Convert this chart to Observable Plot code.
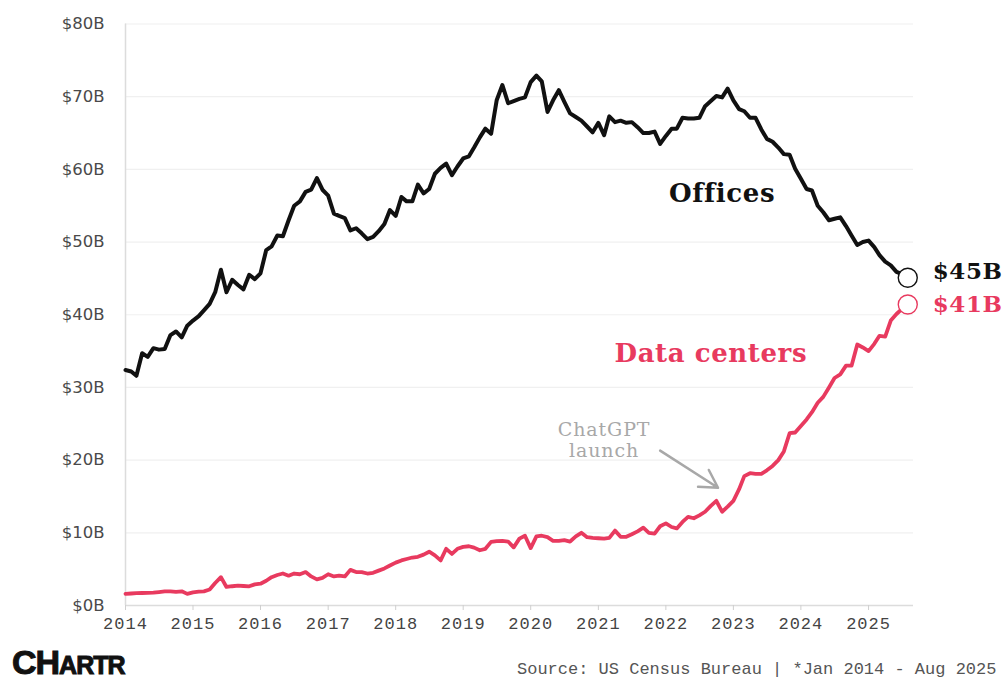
<!DOCTYPE html>
<html>
<head>
<meta charset="utf-8">
<script src="https://cdn.jsdelivr.net/npm/d3@7"></script>
<script src="https://cdn.jsdelivr.net/npm/@observablehq/plot@0.6"></script>
<style>
  html, body { margin: 0; padding: 0; background: #fff; }
  #wrap { width: 1007px; height: 680px; position: relative; overflow: hidden; }
  #footer { position: relative; height: 35px; width: 1007px; }
  #logo { position: absolute; left: 12px; top: 1px; height: 33px; font-family: "Liberation Sans Narrow", "Liberation Sans", sans-serif; font-weight: 700; color: #111; letter-spacing: -1px; line-height: 33px; white-space: nowrap; -webkit-text-stroke: 1px #111; }
  #logo .big { font-size: 34px; }
  #logo .small { font-size: 25px; }
  #source { position: absolute; left: 517px; top: 15px; font-family: "Liberation Mono", monospace; font-size: 17px; line-height: 20px; color: #555; white-space: nowrap; }
  g[aria-label="x-axis tick label"] text { letter-spacing: 1px; }
  .lbl text { letter-spacing: 0.6px; }
  .note text { letter-spacing: 0.9px; }
</style>
</head>
<body>
<div id="wrap">
  <div id="chart"></div>
  <div id="footer">
    <div id="logo"><span class="big">CH</span><span class="small">ARTR</span></div>
    <div id="source">Source: US Census Bureau | *Jan 2014 - Aug 2025</div>
  </div>
</div>
<script>
// Monthly construction spending, Jan 2014 – Aug 2025 ($B, annualized)
const firstMonth = "2014-01-01";
const lastMonthExclusive = "2025-09-01";

const offices = [
  32.4, 32.2, 31.6, 34.7, 34.2, 35.4, 35.2, 35.3, 37.2, 37.7, 36.9, 38.5,
  39.2, 39.8, 40.6, 41.5, 43.1, 46.2, 43.1, 44.8, 44.1, 43.5, 45.5, 44.9,
  45.7, 48.9, 49.4, 50.9, 50.8, 53.0, 55.0, 55.6, 56.9, 57.2, 58.8, 57.2,
  56.4, 53.9, 53.6, 53.3, 51.6, 51.9, 51.2, 50.4, 50.7, 51.5, 52.5, 54.4,
  53.6, 56.2, 55.6, 55.6, 57.9, 56.7, 57.3, 59.4, 60.2, 60.8, 59.2, 60.4,
  61.5, 61.8, 63.0, 64.4, 65.6, 64.9, 69.5, 71.6, 69.1, 69.4, 69.7, 69.9,
  72.0, 72.9, 72.1, 67.9, 69.5, 70.9, 69.3, 67.7, 67.2, 66.7, 65.9, 65.1,
  66.4, 64.7, 67.3, 66.5, 66.7, 66.4, 66.5, 65.8, 65.0, 65.0, 65.2, 63.5,
  64.6, 65.6, 65.6, 67.1, 67.0, 67.0, 67.1, 68.7, 69.4, 70.1, 69.9, 71.1,
  69.5, 68.3, 68.0, 67.1, 67.1, 65.5, 64.2, 63.8, 63.0, 62.1, 62.0, 60.1,
  58.7, 57.3, 57.1, 55.0, 54.1, 53.0, 53.2, 53.4, 52.2, 50.9, 49.6, 50.0,
  50.2, 49.3, 48.2, 47.3, 46.8, 45.9, 45.6, 45.1
];

const dataCenters = [
  1.6, 1.65, 1.7, 1.72, 1.75, 1.76, 1.85, 1.95, 1.95, 1.88, 1.95, 1.6,
  1.8, 1.9, 1.95, 2.2, 3.1, 3.9, 2.55, 2.65, 2.73, 2.68, 2.64, 2.9,
  3.0, 3.4, 3.9, 4.2, 4.4, 4.1, 4.4, 4.3, 4.6, 4.0, 3.6, 3.8,
  4.3, 4.0, 4.1, 4.0, 4.9, 4.6, 4.6, 4.4, 4.5, 4.8, 5.1, 5.5,
  5.9, 6.2, 6.4, 6.6, 6.7, 7.0, 7.4, 6.9, 6.2, 7.8, 7.1, 7.8,
  8.06, 8.15, 7.96, 7.6, 7.8, 8.75, 8.85, 8.88, 8.8, 8.0, 9.2, 9.6,
  7.9, 9.5, 9.6, 9.4, 8.9, 8.9, 9.0, 8.8, 9.5, 10.0, 9.4, 9.3,
  9.25, 9.2, 9.3, 10.3, 9.45, 9.45, 9.8, 10.2, 10.7, 10.0, 9.9, 10.9,
  11.3, 10.8, 10.6, 11.5, 12.2, 12.0, 12.4, 12.9, 13.7, 14.4, 12.9, 13.6,
  14.4, 16.0, 17.8, 18.2, 18.1, 18.1, 18.6, 19.2, 20.0, 21.2, 23.7, 23.8,
  24.7, 25.6, 26.6, 27.9, 28.7, 30.0, 31.3, 31.8, 33.0, 33.0, 35.9, 35.5,
  35.0, 36.0, 37.1, 37.0, 39.2, 40.1, 40.8, 41.4
];

const yTicks = [0, 10, 20, 30, 40, 50, 60, 70, 80];
const xTickYears = [2014, 2015, 2016, 2017, 2018, 2019, 2020, 2021, 2022, 2023, 2024, 2025];

const seriesNames = ["Offices", "Data centers"];
const seriesColors = ["#111111", "#e83a5f"];
const endLabels = ["$45B", "$41B"];

// annotation anchors (in data space)
const chatgptNote = [
  { date: "2021-02-01", value: 24.1, text: "ChatGPT" },
  { date: "2021-02-01", value: 21.2, text: "launch" }
];
const chatgptArrow = { from: ["2021-12-01", 21.3], to: ["2022-10-10", 16.2] };
const seriesLabelPos = [
  { date: "2022-11-01", value: 56.7 },
  { date: "2022-09-01", value: 34.6 }
];

const months = d3.utcMonths(new Date(firstMonth), new Date(lastMonthExclusive));
const officeRows = months.map((d, i) => ({ date: d, value: offices[i] }));
const dcRows = months.map((d, i) => ({ date: d, value: dataCenters[i] }));
const lastDate = months[months.length - 1];
const officeEnd = [{ date: lastDate, value: offices[offices.length - 1], label: endLabels[0] }];
const dcEnd = [{ date: lastDate, value: dataCenters[dataCenters.length - 1], label: endLabels[1] }];

const serif = "'DejaVu Serif', serif";
const mono = "'Liberation Mono', monospace";

const chart = Plot.plot({
  width: 1007,
  height: 645,
  marginTop: 23.5,
  marginBottom: 40,
  marginLeft: 125,
  marginRight: 94,
  style: { background: "#fff", overflow: "visible" },
  x: { type: "utc", domain: [new Date(firstMonth), new Date(lastMonthExclusive)] },
  y: { domain: [0, 80] },
  marks: [
    Plot.gridY(yTicks, { stroke: "#f0f0f0", strokeOpacity: 1, strokeWidth: 1.2 }),
    Plot.ruleX([new Date(firstMonth)], { stroke: "#dcdcdc", strokeWidth: 1.5 }),
    Plot.ruleY([0], { stroke: "#dcdcdc", strokeWidth: 1.5 }),
    Plot.axisY({
      ticks: yTicks, tickSize: 0, tickPadding: 21,
      tickFormat: d => `$${d}B`,
      fontFamily: "'DejaVu Sans', sans-serif", fontSize: 16.5, fill: "#4a4a4a", label: null
    }),
    Plot.axisX({
      ticks: xTickYears.map(y => new Date(Date.UTC(y, 0, 1))),
      tickFormat: d => String(d.getUTCFullYear()),
      tickSize: 5, tickPadding: 6, stroke: "#cfcfcf",
      fontFamily: mono, fontSize: 17, fill: "#444", label: null
    }),
    Plot.line(dcRows, {
      x: "date", y: "value", stroke: seriesColors[1], strokeWidth: 3.8, strokeLinejoin: "round"
    }),
    Plot.line(officeRows, {
      x: "date", y: "value", stroke: seriesColors[0], strokeWidth: 4, strokeLinejoin: "round"
    }),
    Plot.dot(officeEnd, { x: "date", y: "value", r: 9.5, fill: "#fff", stroke: seriesColors[0], strokeWidth: 1.4 }),
    Plot.dot(dcEnd, { x: "date", y: "value", r: 9.5, fill: "#fff", stroke: seriesColors[1], strokeWidth: 1.4 }),
    Plot.text(officeEnd, {
      x: "date", y: "value", text: "label", dx: 25, dy: -6, textAnchor: "start",
      fill: seriesColors[0], fontFamily: serif, fontWeight: "bold", fontSize: 23, className: "lbl"
    }),
    Plot.text(dcEnd, {
      x: "date", y: "value", text: "label", dx: 25, dy: 0, textAnchor: "start",
      fill: seriesColors[1], fontFamily: serif, fontWeight: "bold", fontSize: 23, className: "lbl"
    }),
    Plot.text([{ s: seriesNames[0], ...seriesLabelPos[0] }], {
      x: d => new Date(d.date), y: "value", text: "s",
      fill: seriesColors[0], fontFamily: serif, fontWeight: "bold", fontSize: 26, className: "lbl"
    }),
    Plot.text([{ s: seriesNames[1], ...seriesLabelPos[1] }], {
      x: d => new Date(d.date), y: "value", text: "s",
      fill: seriesColors[1], fontFamily: serif, fontWeight: "bold", fontSize: 26, className: "lbl"
    }),
    Plot.text(chatgptNote, {
      x: d => new Date(d.date), y: "value", text: "text",
      fill: "#a8a8a8", fontFamily: serif, fontSize: 19, className: "note"
    }),
    Plot.arrow([chatgptArrow], {
      x1: d => new Date(d.from[0]), y1: d => d.from[1],
      x2: d => new Date(d.to[0]), y2: d => d.to[1],
      stroke: "#a8a8a8", strokeWidth: 2.5, headLength: 12
    })
  ]
});
document.getElementById("chart").appendChild(chart);
</script>
</body>
</html>
